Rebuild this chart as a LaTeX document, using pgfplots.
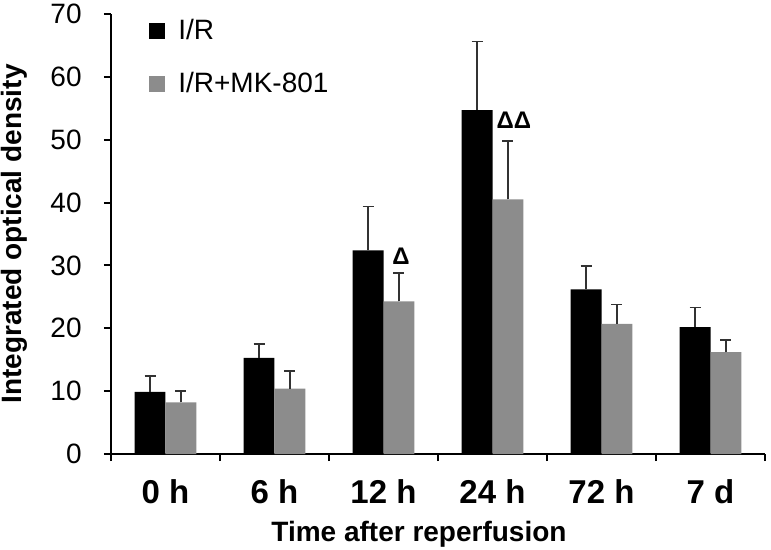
\documentclass[border=0pt]{standalone}
\usepackage{fontspec}
\setmainfont{Liberation Sans}
\usepackage{pgfplots}
\pgfplotsset{compat=1.18}

\definecolor{barGray}{RGB}{140,140,140}
\definecolor{errGray}{RGB}{50,50,50}

\begin{document}
\begin{tikzpicture}
\begin{axis}[
    name=ax,
    scale only axis,
    width=327bp, height=220bp,
    axis lines*=left,
    axis line style={line width=1bp, -},
    xmin=0.5, xmax=6.5,
    ymin=0, ymax=70,
    ytick={0,10,...,70},
    xtick={1,...,6},
    xticklabels={0 h,6 h,12 h,24 h,72 h,7 d},
    minor xtick={0.5,1.5,...,6.5},
    tick align=outside,
    major tick length=3.5bp,
    minor tick length=3.5bp,
    major x tick style={draw=none},
    tick style={line width=1bp, black},
    /pgf/number format/assume math mode=true,
    yticklabel style={font=\fontsize{14bp}{16bp}\selectfont, inner sep=0pt, xshift=-11bp},
    xticklabel style={font=\fontsize{16.5bp}{18bp}\selectfont\bfseries, inner sep=0pt, yshift=-9bp},
    ylabel={Integrated optical density},
    xlabel={Time after reperfusion},
    label style={font=\fontsize{14bp}{16bp}\selectfont\bfseries},
    ylabel style={at={(axis description cs:-0.148,0.5)}, anchor=center},
    xlabel style={at={(axis description cs:0.471,-0.199)}, anchor=base},
    ybar=0pt,
    bar width=0.284,
    legend cell align=left,
    legend style={draw=none, fill=none, inner sep=0pt,
        at={(axis description cs:0.058,0.997)}, anchor=north west,
        font=\fontsize{14bp}{16bp}\selectfont, row sep=10.5bp},
    legend image code/.code={\fill[#1] (0bp,-4bp) rectangle (8bp,4bp); \path (12.5bp,0bp);},
    error bars/y dir=plus,
    error bars/y explicit,
    error bars/error bar style={line width=0.75bp, errGray},
    error bars/error mark options={line width=0.75bp, errGray, mark size=2.75bp, rotate=90},
]
\addplot[fill=black, draw=none] coordinates {
    (1,9.9) +- (0,2.5)
    (2,15.3) +- (0,2.2)
    (3,32.4) +- (0,7.0)
    (4,54.7) +- (0,10.9)
    (5,26.2) +- (0,3.7)
    (6,20.2) +- (0,3.1)
};
\addlegendentry{I/R}
\addplot[fill=barGray, draw=none] coordinates {
    (1,8.2) +- (0,1.8)
    (2,10.4) +- (0,2.8)
    (3,24.3) +- (0,4.5)
    (4,40.5) +- (0,9.3)
    (5,20.7) +- (0,3.1)
    (6,16.2) +- (0,1.9)
};
\addlegendentry{I/R+MK-801}
\node[font=\fontsize{12bp}{14bp}\selectfont\bfseries] at (axis cs:3.16,31.5) {Δ};
\node[font=\fontsize{12bp}{14bp}\selectfont\bfseries] at (axis cs:4.197,53.1) {ΔΔ};
\end{axis}
\pgfresetboundingbox
\path[use as bounding box] ([shift={(-55.5bp,-48bp)}]ax.south west) rectangle ([shift={(3bp,7bp)}]ax.north east);
\end{tikzpicture}
\end{document}
